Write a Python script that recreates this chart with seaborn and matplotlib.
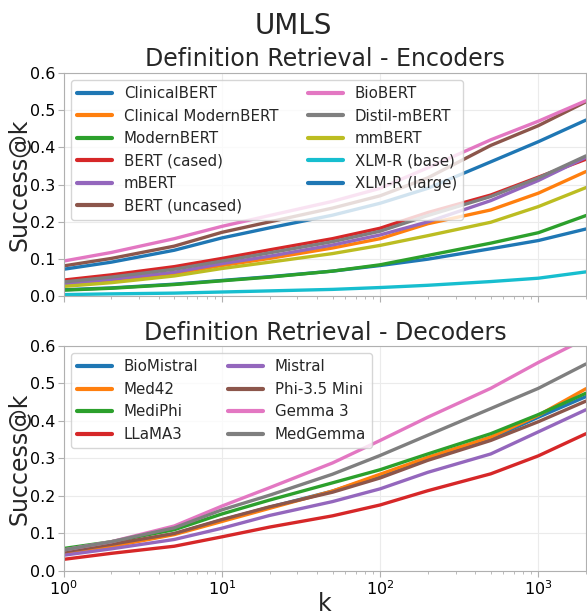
import matplotlib
matplotlib.use("Agg")
import matplotlib.pyplot as plt
import seaborn as sns
import pandas as pd

# k values (log x axis)
k_values = [1, 2, 5, 10, 20, 50, 100, 200, 500, 1000, 2000]

# Encoders - Success@k
encoder_names = ["ClinicalBERT", "Clinical ModernBERT", "ModernBERT", "BERT (cased)",
                 "mBERT", "BERT (uncased)", "BioBERT", "Distil-mBERT", "mmBERT",
                 "XLM-R (base)", "XLM-R (large)"]
clinicalbert = [0.018, 0.023, 0.033, 0.043, 0.053, 0.068, 0.083, 0.100, 0.128, 0.150, 0.181]
clinical_modernbert = [0.031, 0.043, 0.062, 0.083, 0.102, 0.130, 0.155, 0.195, 0.232, 0.277, 0.335]
modernbert = [0.017, 0.022, 0.032, 0.042, 0.052, 0.068, 0.085, 0.110, 0.143, 0.171, 0.217]
bert_cased = [0.044, 0.058, 0.080, 0.102, 0.125, 0.155, 0.183, 0.225, 0.272, 0.320, 0.368]
mbert = [0.034, 0.046, 0.065, 0.088, 0.108, 0.138, 0.165, 0.200, 0.257, 0.311, 0.373]
bert_uncased = [0.082, 0.102, 0.135, 0.172, 0.200, 0.237, 0.270, 0.318, 0.405, 0.458, 0.522]
biobert = [0.095, 0.118, 0.155, 0.188, 0.217, 0.255, 0.290, 0.345, 0.420, 0.470, 0.525]
distil_mbert = [0.039, 0.052, 0.073, 0.095, 0.117, 0.147, 0.175, 0.217, 0.268, 0.318, 0.377]
mmbert = [0.027, 0.037, 0.055, 0.075, 0.092, 0.115, 0.137, 0.163, 0.199, 0.241, 0.292]
xlmr_base = [0.005, 0.007, 0.009, 0.012, 0.015, 0.019, 0.024, 0.030, 0.040, 0.049, 0.066]
xlmr_large = [0.073, 0.092, 0.124, 0.157, 0.184, 0.218, 0.250, 0.290, 0.361, 0.415, 0.473]

# Decoders
decoder_names = ["BioMistral", "Med42", "MediPhi", "LLaMA3", "Mistral",
                 "Phi-3.5 Mini", "Gemma 3", "MedGemma"]
biomistral = [0.050, 0.068, 0.099, 0.136, 0.170, 0.213, 0.254, 0.299, 0.353, 0.410, 0.465]
med42 = [0.048, 0.065, 0.097, 0.132, 0.167, 0.213, 0.258, 0.303, 0.357, 0.415, 0.486]
mediphi = [0.060, 0.078, 0.110, 0.152, 0.189, 0.235, 0.270, 0.312, 0.366, 0.417, 0.474]
llama3 = [0.031, 0.047, 0.066, 0.091, 0.117, 0.147, 0.176, 0.214, 0.259, 0.307, 0.366]
mistral = [0.042, 0.059, 0.084, 0.114, 0.148, 0.185, 0.219, 0.263, 0.312, 0.371, 0.430]
phi35_mini = [0.051, 0.071, 0.100, 0.137, 0.171, 0.210, 0.248, 0.295, 0.348, 0.398, 0.453]
gemma3 = [0.056, 0.078, 0.120, 0.173, 0.222, 0.288, 0.348, 0.410, 0.487, 0.556, 0.620]
medgemma = [0.056, 0.078, 0.115, 0.163, 0.202, 0.258, 0.308, 0.362, 0.433, 0.487, 0.552]

enc_scores = [clinicalbert, clinical_modernbert, modernbert, bert_cased, mbert,
              bert_uncased, biobert, distil_mbert, mmbert, xlmr_base, xlmr_large]
dec_scores = [biomistral, med42, mediphi, llama3, mistral, phi35_mini, gemma3, medgemma]


def to_long(names, scores):
    rows = []
    for name, vals in zip(names, scores):
        for k, v in zip(k_values, vals):
            rows.append({"k": k, "score": v, "model": name})
    return pd.DataFrame(rows)


enc_df = to_long(encoder_names, enc_scores)
dec_df = to_long(decoder_names, dec_scores)

tab10 = sns.color_palette("tab10")
enc_colors = [tab10[i % 10] for i in range(len(encoder_names))]
dec_colors = [tab10[i] for i in range(len(decoder_names))]

sns.set_style("whitegrid")
plt.rcParams["font.family"] = ["DejaVu Sans"]
plt.rcParams.update({
    "grid.color": "#ebebeb",
    "axes.edgecolor": "#b0b0b0",
    "xtick.bottom": True,
    "ytick.left": True,
    "xtick.color": "#b0b0b0",
    "ytick.color": "#b0b0b0",
    "xtick.labelcolor": "black",
    "ytick.labelcolor": "black",
    "xtick.major.size": 4,
    "ytick.major.size": 4,
    "xtick.minor.size": 2.5,
    "xtick.minor.visible": True,
})

fig = plt.figure(figsize=(5.87, 6.16), dpi=100)
ax1 = fig.add_axes([0.1085, 0.5187, 0.8898, 0.3633])
ax2 = fig.add_axes([0.1085, 0.0731, 0.8898, 0.3653])

panels = [
    (ax1, enc_df, encoder_names, enc_colors, "Definition Retrieval - Encoders"),
    (ax2, dec_df, decoder_names, dec_colors, "Definition Retrieval - Decoders"),
]
for ax, df, names, colors, title in panels:
    sns.lineplot(data=df, x="k", y="score", hue="model", hue_order=names,
                 palette=colors, linewidth=2.4, ax=ax)
    ax.set_xscale("log")
    ax.set_xlim(1, 2000)
    ax.set_ylim(0, 0.6)
    ax.set_title(title, fontsize=17, pad=4.5)
    ax.set_ylabel("Success@k", fontsize=17, labelpad=-1)
    ax.tick_params(axis="both", which="major", labelsize=11.5, pad=2)
    ax.grid(True, which="major")
    ax.grid(False, which="minor")
    sns.move_legend(ax, "upper left", ncol=2, title=None, fontsize=10.8,
                    handlelength=2.3, frameon=True, framealpha=0.8,
                    borderaxespad=0.5)
    for line in ax.get_legend().get_lines():
        line.set_linewidth(3)

ax1.set_xlabel("")
ax1.tick_params(axis="x", which="both", labelbottom=False)
ax2.set_xlabel("k", fontsize=17, labelpad=-4)

fig.suptitle("UMLS", fontsize=20, y=0.958, va="center")

fig.savefig("out.png", dpi=100)
